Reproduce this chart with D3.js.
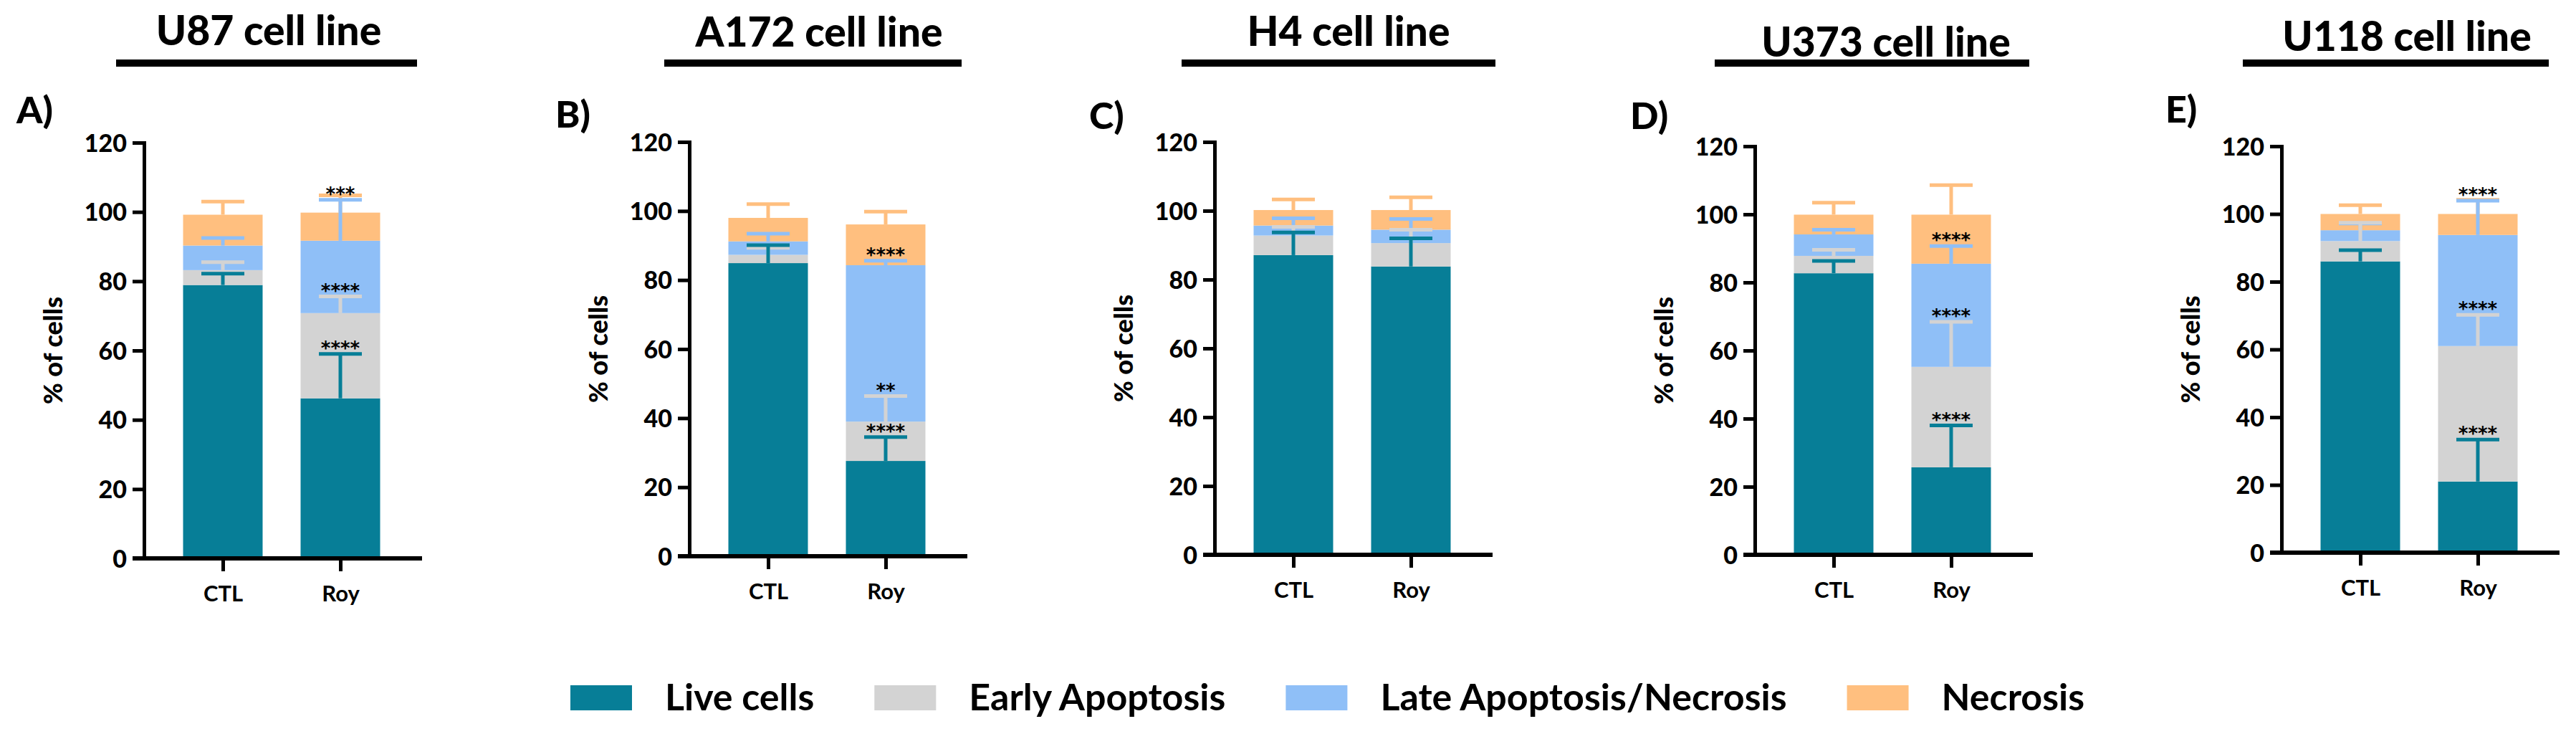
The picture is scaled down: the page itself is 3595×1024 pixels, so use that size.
<!DOCTYPE html>
<html>
<head>
<meta charset="utf-8">
<script src="https://cdn.jsdelivr.net/npm/d3@7/dist/d3.min.js"></script>
<style>
  body { margin: 0; background: #fff; }
  svg text { font-family: Lato, "Open Sans", sans-serif; font-weight: 700; fill: #000; }
</style>
</head>
<body>
<svg id="chart"></svg>
<script>
// cell lines, groups and legend categories
const cellLines = ['U87', 'A172', 'H4', 'U373', 'U118'];
const panelLetters = ['A)', 'B)', 'C)', 'D)', 'E)'];
const groups = ['CTL', 'Roy'];
const categories = ['Live cells', 'Early Apoptosis', 'Late Apoptosis/Necrosis', 'Necrosis'];
const yTicks = [0, 20, 40, 60, 80, 100, 120];

// mean % of cells per cell line, [CTL, Roy]
const liveCells = [[78.9, 46.2], [84.9, 27.6], [87.1, 83.8], [82.7, 25.7], [86.0, 21.0]];
const earlyApoptosis = [[4.3, 24.6], [2.4, 11.4], [5.7, 6.8], [5.1, 29.5], [6.0, 40.0]];
const lateApoptosis = [[7.1, 20.9], [3.9, 45.3], [2.9, 3.9], [6.3, 30.3], [3.2, 32.8]];
const necrosis = [[8.9, 8.1], [6.8, 11.8], [4.5, 5.7], [5.8, 14.4], [4.8, 6.2]];

// SD (drawn upward only), [CTL, Roy]
const liveErr = [[3.3, 12.8], [5.2, 6.9], [6.6, 8.2], [3.6, 12.3], [3.3, 12.4]];
const earlyErr = [[2.3, 4.8], [2.0, 7.4], [2.5, 3.9], [1.8, 13.2], [5.4, 9.2]];
const lateErr = [[2.2, 11.8], [2.2, 1.3], [2.1, 3.1], [1.4, 5.2], [2.0, 10.1]];
const necrosisErr = [[3.8, 5.0], [4.0, 3.7], [3.1, 3.7], [3.5, 8.7], [2.6, 4.2]];

// significance marks on the Roy bar, per category
const royStars = [
  ['****', '****', '***', ''],
  ['****', '**', '****', ''],
  ['', '', '', ''],
  ['****', '****', '****', ''],
  ['****', '****', '****', ''],
];

const colors = ['#077e97', '#d3d3d3', '#8fbff7', '#ffbf7f'];

// where each panel sits on the page
const panelLayout = [
  { axisX: 201, top: 199, bottom: 779, titleX: 375, titleY: 63, barX0: 162, barX1: 582, letterX: 23, letterY: 172 },
  { axisX: 962, top: 198, bottom: 776, titleX: 1143, titleY: 65, barX0: 927, barX1: 1342, letterX: 775, letterY: 178 },
  { axisX: 1695, top: 198, bottom: 774, titleX: 1882, titleY: 64, barX0: 1649, barX1: 2087, letterX: 1520, letterY: 180 },
  { axisX: 2449, top: 204, bottom: 774, titleX: 2632, titleY: 79, barX0: 2393, barX1: 2832, letterX: 2275, letterY: 180 },
  { axisX: 3184, top: 204, bottom: 771, titleX: 3359, titleY: 71, barX0: 3130, barX1: 3557, letterX: 3022, letterY: 171 },
];

const W = 3595, H = 1024;
const svg = d3.select('#chart').attr('width', W).attr('height', H);
svg.append('rect').attr('width', W).attr('height', H).attr('fill', '#fff');

const keys = ['live', 'early', 'late', 'necrosis'];
const means = [liveCells, earlyApoptosis, lateApoptosis, necrosis];
const errs = [liveErr, earlyErr, lateErr, necrosisErr];
const color = d3.scaleOrdinal().domain(keys).range(colors);

cellLines.forEach((line, i) => {
  const L = panelLayout[i];
  const g = svg.append('g').attr('class', 'panel');

  const rows = groups.map((grp, gi) => {
    const r = { group: grp, gi };
    keys.forEach((k, ki) => { r[k] = means[ki][i][gi]; });
    return r;
  });
  const series = d3.stack().keys(keys)(rows);

  const y = d3.scaleLinear().domain([0, 120]).range([L.bottom, L.top]);
  const x = d3.scalePoint().domain(groups).range([L.axisX + 110, L.axisX + 274]);
  const barW = 111, capW = 60;

  // title + underline
  g.append('text')
    .attr('x', L.titleX).attr('y', L.titleY)
    .attr('text-anchor', 'middle')
    .style('font-size', '57px')
    .style('font-weight', 900)
    .text(`${line} cell line`);
  g.append('rect')
    .attr('x', L.barX0).attr('y', 83)
    .attr('width', L.barX1 - L.barX0).attr('height', 10)
    .attr('fill', '#000');

  g.append('text')
    .attr('x', L.letterX).attr('y', L.letterY)
    .style('font-size', '52px')
    .style('font-weight', 900)
    .text(panelLetters[i]);

  // stacked bars
  g.append('g').selectAll('g')
    .data(series)
    .join('g')
      .attr('fill', d => color(d.key))
    .selectAll('rect')
    .data(d => d)
    .join('rect')
      .attr('x', d => x(d.data.group) - barW / 2)
      .attr('y', d => y(d[1]))
      .attr('width', barW)
      .attr('height', d => y(d[0]) - y(d[1]));

  // error bars, drawn top category first so lower ones sit on top
  const errG = g.append('g');
  series.slice().reverse().forEach(s => {
    const ki = keys.indexOf(s.key);
    s.forEach(d => {
      const cx = x(d.data.group);
      const capY = y(d[1] + errs[ki][i][d.data.gi]);
      errG.append('line')
        .attr('x1', cx).attr('x2', cx)
        .attr('y1', y(d[1])).attr('y2', capY)
        .attr('stroke', color(s.key)).attr('stroke-width', 5);
      errG.append('line')
        .attr('x1', cx - capW / 2).attr('x2', cx + capW / 2)
        .attr('y1', capY).attr('y2', capY)
        .attr('stroke', color(s.key)).attr('stroke-width', 5);
    });
  });

  // stars above the Roy error caps
  series.forEach(s => {
    const ki = keys.indexOf(s.key);
    const d = s[1];
    const mark = royStars[i][ki];
    if (!mark) return;
    g.append('text')
      .attr('x', x('Roy'))
      .attr('y', y(d[1] + errs[ki][i][1]) + 1)
      .attr('text-anchor', 'middle')
      .style('font-family', '"DejaVu Sans", sans-serif')
      .style('font-size', '26px')
      .text(mark);
  });

  // y axis
  const yAxis = g.append('g')
    .attr('transform', `translate(${L.axisX},0)`)
    .call(d3.axisLeft(y).tickValues(yTicks).tickSize(16).tickSizeOuter(0).tickPadding(8));
  yAxis.select('.domain').attr('stroke-width', 5).attr('stroke-linecap', 'square');
  yAxis.selectAll('.tick line').attr('stroke-width', 5);
  yAxis.selectAll('.tick text').style('font-size', '34px').style('font-weight', 900).attr('dy', '0.36em');

  // x axis
  g.append('line')
    .attr('x1', L.axisX - 16).attr('x2', L.axisX + 388)
    .attr('y1', L.bottom).attr('y2', L.bottom)
    .attr('stroke', '#000').attr('stroke-width', 6);
  const xAxis = g.append('g')
    .attr('transform', `translate(0,${L.bottom})`)
    .call(d3.axisBottom(x).tickSize(18).tickPadding(20));
  xAxis.select('.domain').remove();
  xAxis.selectAll('.tick line').attr('stroke-width', 5);
  xAxis.selectAll('.tick text').style('font-size', '31px');

  g.append('text')
    .attr('transform', `translate(${L.axisX - 114},${(L.top + L.bottom) / 2}) rotate(-90)`)
    .attr('text-anchor', 'middle')
    .style('font-size', '36px')
    .style('font-weight', 900)
    .text('% of cells');
});

// legend
const legend = svg.append('g').attr('class', 'legend');
let lx = 796;
categories.forEach((c, ci) => {
  legend.append('rect')
    .attr('x', lx).attr('y', 956)
    .attr('width', 86).attr('height', 35)
    .attr('fill', colors[ci]);
  const t = legend.append('text')
    .attr('x', lx + 132).attr('y', 991)
    .style('font-size', '52px')
    .text(c);
  lx += 132 + t.node().getComputedTextLength() + 84;
});
</script>
</body>
</html>
